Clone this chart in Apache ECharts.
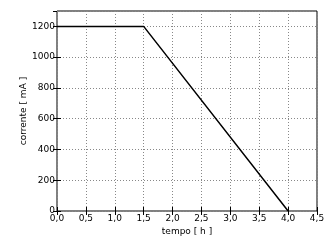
<!DOCTYPE html>
<html><head><meta charset="utf-8">
<script src="https://cdn.jsdelivr.net/npm/echarts@6/dist/echarts.min.js"></script>
<style>html,body{margin:0;padding:0;background:#fff}#c{width:329px;height:241px}</style>
</head><body><div id="c"></div>
<script>
var timeHours = [0, 1.5, 4.0];
var currentMA = [1200, 1200, 0];
var xLabel = 'tempo [ h ]';
var yLabel = 'corrente [ mA ]';

var chart = echarts.init(document.getElementById('c'), null, {renderer: 'canvas'});
var font = 'DejaVu Sans';
var grid = {left: 57, right: 12, top: 11, bottom: 30, show: true, borderColor: '#000', borderWidth: 1, backgroundColor: 'transparent'};
var splitLine = {show: true, lineStyle: {color: '#888', type: [1, 2], width: 1}};
chart.setOption({
  animation: false,
  grid: grid,
  xAxis: [{
    type: 'value', min: 0, max: 4.5, interval: 0.5,
    name: xLabel, nameLocation: 'middle', nameGap: 16, nameMoveOverlap: false,
    nameTextStyle: {fontFamily: font, fontSize: 9, color: '#000'},
    axisLine: {show: false},
    axisTick: {show: true, inside: true, length: 4, lineStyle: {color: '#000'}},
    axisLabel: {fontFamily: font, fontSize: 9, color: '#000', margin: 3,
      formatter: function (v) { return v.toFixed(1).replace('.', ','); }},
    splitLine: splitLine
  }, {
    type: 'value', min: 0, max: 4.5, interval: 0.5, position: 'top',
    axisLine: {show: false}, axisLabel: {show: false}, splitLine: {show: false},
    axisTick: {show: true, inside: true, length: 4, lineStyle: {color: '#000'}}
  }],
  yAxis: [{
    type: 'value', min: 0, max: 1300, interval: 200,
    name: yLabel, nameLocation: 'middle', nameGap: 29, nameRotate: 90, nameMoveOverlap: false,
    nameTextStyle: {fontFamily: font, fontSize: 9, color: '#000'},
    axisLine: {show: false},
    axisTick: {show: true, inside: true, length: 4, lineStyle: {color: '#000'}},
    axisLabel: {fontFamily: font, fontSize: 9, color: '#000', margin: 2, showMaxLabel: false,
      formatter: function (v) { return String(v); }},
    splitLine: splitLine
  }, {
    type: 'value', min: 0, max: 1300, interval: 200, position: 'right',
    axisLine: {show: false}, axisLabel: {show: false}, splitLine: {show: false},
    axisTick: {show: true, inside: true, length: 4, lineStyle: {color: '#000'}}
  }],
  series: [{
    type: 'line',
    data: timeHours.map(function (t, i) { return [t, currentMA[i]]; }),
    symbol: 'none',
    lineStyle: {color: '#000', width: 1.5}
  }]
});
</script></body></html>
